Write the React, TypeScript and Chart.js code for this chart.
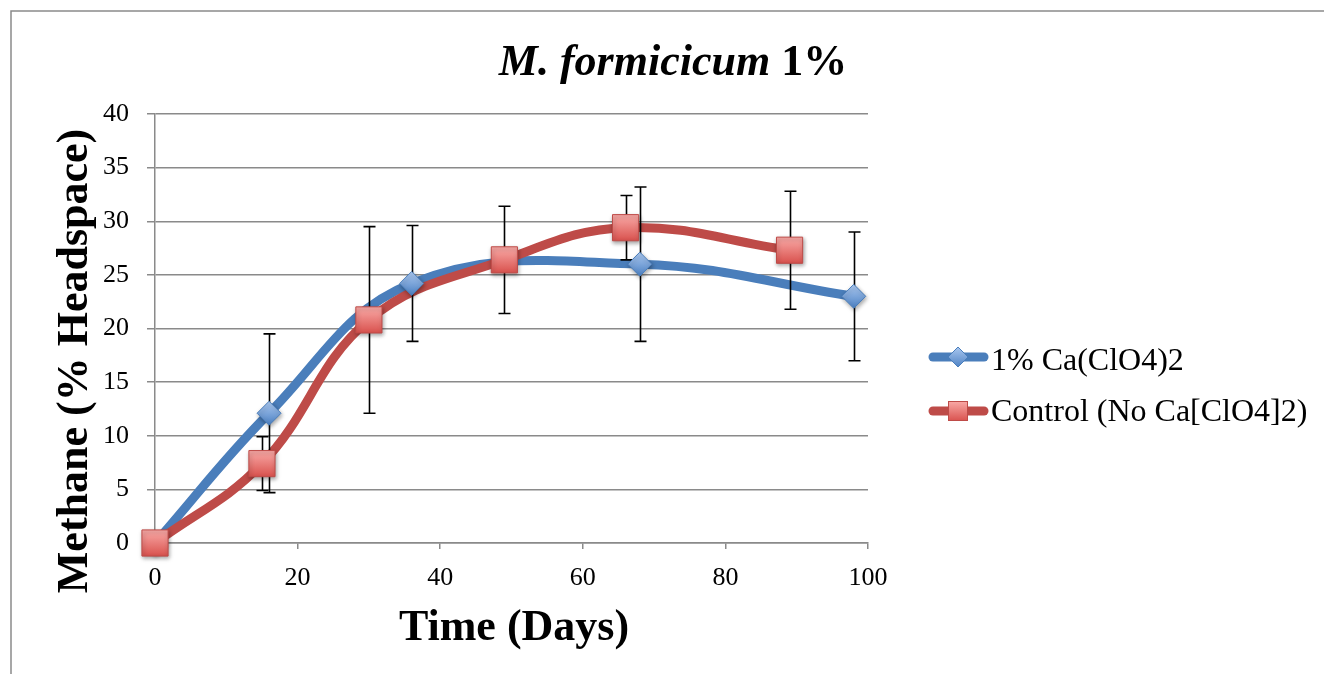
import { useEffect, useRef } from 'react';
import { Chart, registerables } from 'chart.js';

Chart.register(...registerables);

// Series: 1% calcium perchlorate
const daysPerchlorate = [0, 16, 36, 68, 98];
const methanePerchlorate = [0, 12.1, 24.2, 26.0, 23.0];
const errorPerchlorate = [0, 7.4, 5.4, 7.2, 6.0];

// Series: control without perchlorate
const daysControl = [0, 15, 30, 49, 66, 89];
const methaneControl = [0, 7.4, 20.8, 26.4, 29.4, 27.3];
const errorControl = [0, 2.5, 8.7, 5.0, 3.0, 5.5];

const seriesNames = ['1% Ca(ClO4)2', 'Control (No Ca[ClO4]2)'];
const xTickValues = [0, 20, 40, 60, 80, 100];
const yTickValues = [0, 5, 10, 15, 20, 25, 30, 35, 40];

const titleItalicPart = 'M. formicicum';
const titlePlainPart = '1%';
const xAxisTitle = 'Time (Days)';
const yAxisTitle = 'Methane (% Headspace)';

const W = 1324;
const H = 674;
const SERIF = '"Liberation Serif", "DejaVu Serif", serif';

const BLUE = '#4a7ebb';
const RED = '#be4b48';
const GRID = '#8a8a8a';
const LINE_W = 9;

function markerFill(top: string, bottom: string, half: number) {
  return (ctx: any) => {
    const chart = ctx.chart;
    const ys = chart.scales && chart.scales.y;
    if (!ys || !ctx.parsed) return bottom;
    const py = ys.getPixelForValue(ctx.parsed.y);
    if (!Number.isFinite(py)) return bottom;
    const g = chart.ctx.createLinearGradient(0, py - half, 0, py + half);
    g.addColorStop(0, top);
    g.addColorStop(1, bottom);
    return g;
  };
}

const toPoints = (xs: number[], ys: number[]) => xs.map((x, i) => ({ x, y: ys[i] }));

// Vertical error bars, drawn above both lines but below the markers
const errorBarPlugin = {
  id: 'errorBars',
  beforeDatasetDraw(chart: any, args: any) {
    if (args.index !== 2) return;
    const { ctx, scales } = chart;
    const sets = [
      { xs: daysPerchlorate, ys: methanePerchlorate, es: errorPerchlorate },
      { xs: daysControl, ys: methaneControl, es: errorControl },
    ];
    ctx.save();
    ctx.strokeStyle = '#000';
    ctx.lineWidth = 1.6;
    sets.forEach((s) => {
      s.xs.forEach((xv, i) => {
        const e = s.es[i];
        if (!e) return;
        const px = Math.round(scales.x.getPixelForValue(xv)) + 0.5;
        const top = scales.y.getPixelForValue(s.ys[i] + e);
        const bot = scales.y.getPixelForValue(s.ys[i] - e);
        ctx.beginPath();
        ctx.moveTo(px, top);
        ctx.lineTo(px, bot);
        ctx.moveTo(px - 6, top);
        ctx.lineTo(px + 6, top);
        ctx.moveTo(px - 6, bot);
        ctx.lineTo(px + 6, bot);
        ctx.stroke();
      });
    });
    ctx.restore();
  },
};

// Soft drop shadow under the markers
const markerShadowPlugin = {
  id: 'markerShadow',
  beforeDatasetDraw(chart: any, args: any) {
    if (args.index < 2) return;
    const ctx = chart.ctx;
    ctx.save();
    ctx.shadowColor = 'rgba(0,0,0,0.35)';
    ctx.shadowBlur = 4;
    ctx.shadowOffsetX = 1;
    ctx.shadowOffsetY = 2;
  },
  afterDatasetDraw(chart: any, args: any) {
    if (args.index < 2) return;
    chart.ctx.restore();
  },
};

// Outer frame, chart title, axis titles and legend
const decorPlugin = {
  id: 'decor',
  afterDraw(chart: any) {
    const ctx = chart.ctx;
    ctx.save();

    // frame
    ctx.strokeStyle = '#8a8a8a';
    ctx.lineWidth = 1.5;
    ctx.beginPath();
    ctx.moveTo(11, H);
    ctx.lineTo(11, 11);
    ctx.lineTo(W, 11);
    ctx.stroke();

    ctx.fillStyle = '#000';
    ctx.textBaseline = 'alphabetic';

    // title: italic species name followed by upright percentage
    const italicFont = `italic bold 44px ${SERIF}`;
    const boldFont = `bold 44px ${SERIF}`;
    ctx.font = italicFont;
    const w1 = ctx.measureText(titleItalicPart + ' ').width;
    ctx.font = boldFont;
    const w2 = ctx.measureText(titlePlainPart).width;
    const startX = 673 - (w1 + w2) / 2;
    ctx.textAlign = 'left';
    ctx.font = italicFont;
    ctx.fillText(titleItalicPart + ' ', startX, 75);
    ctx.font = boldFont;
    ctx.fillText(titlePlainPart, startX + w1, 75);

    // axis titles
    ctx.textAlign = 'center';
    ctx.font = boldFont;
    ctx.fillText(xAxisTitle, 514, 640);
    ctx.save();
    ctx.translate(87, 361);
    ctx.rotate(-Math.PI / 2);
    ctx.fillText(yAxisTitle, 0, 0);
    ctx.restore();

    // legend
    const rows = [
      { y: 357, color: BLUE, shape: 'diamond', base: 370 },
      { y: 411, color: RED, shape: 'square', base: 421 },
    ];
    rows.forEach((r, i) => {
      ctx.strokeStyle = r.color;
      ctx.lineWidth = LINE_W;
      ctx.lineCap = 'round';
      ctx.beginPath();
      ctx.moveTo(933, r.y);
      ctx.lineTo(984, r.y);
      ctx.stroke();
      ctx.lineCap = 'butt';
      ctx.lineWidth = 1;
      if (r.shape === 'diamond') {
        const g = ctx.createLinearGradient(0, r.y - 10, 0, r.y + 10);
        g.addColorStop(0, '#a9c7f0');
        g.addColorStop(1, '#4f83c4');
        ctx.fillStyle = g;
        ctx.beginPath();
        ctx.moveTo(958 - 10, r.y);
        ctx.lineTo(958, r.y - 10);
        ctx.lineTo(958 + 10, r.y);
        ctx.lineTo(958, r.y + 10);
        ctx.closePath();
        ctx.fill();
        ctx.strokeStyle = BLUE;
        ctx.stroke();
      } else {
        const g = ctx.createLinearGradient(0, r.y - 10, 0, r.y + 10);
        g.addColorStop(0, '#f9aaa7');
        g.addColorStop(1, '#d9524e');
        ctx.fillStyle = g;
        ctx.fillRect(948, r.y - 10, 20, 20);
        ctx.strokeStyle = RED;
        ctx.strokeRect(948.5, r.y - 9.5, 19, 19);
      }
      ctx.fillStyle = '#000';
      ctx.textAlign = 'left';
      ctx.font = `32px ${SERIF}`;
      ctx.fillText(seriesNames[i], 991, r.base);
    });

    ctx.restore();
  },
};

export default function App() {
  const canvasRef = useRef<HTMLCanvasElement | null>(null);

  useEffect(() => {
    const canvas = canvasRef.current;
    if (!canvas) return;

    const blueLine = toPoints(daysPerchlorate, methanePerchlorate);
    const redLine = toPoints(daysControl, methaneControl);

    const chart = new Chart(canvas, {
      type: 'line',
      data: {
        datasets: [
          {
            label: seriesNames[0],
            data: blueLine,
            borderColor: BLUE,
            borderWidth: LINE_W,
            tension: 0.4,
            pointRadius: 0,
            clip: false,
            order: 3,
          },
          {
            label: seriesNames[1],
            data: redLine,
            borderColor: RED,
            borderWidth: LINE_W,
            tension: 0.4,
            pointRadius: 0,
            clip: false,
            order: 2,
          },
          {
            label: seriesNames[0],
            data: blueLine,
            showLine: false,
            pointStyle: 'rectRot',
            pointRadius: 12,
            pointBorderWidth: 1,
            pointBorderColor: BLUE,
            pointBackgroundColor: markerFill('#a9c7f0', '#4f83c4', 11),
            clip: false,
            order: 1,
          },
          {
            label: seriesNames[1],
            data: redLine,
            showLine: false,
            pointStyle: 'rect',
            pointRadius: 18.5,
            pointBorderWidth: 1,
            pointBorderColor: RED,
            pointBackgroundColor: markerFill('#f9aaa7', '#d9524e', 13),
            clip: false,
            order: 0,
          },
        ],
      },
      options: {
        animation: false,
        responsive: false,
        events: [],
        layout: { padding: { left: 0, top: 114, right: W - 868, bottom: 0 } },
        plugins: {
          legend: { display: false },
          title: { display: false },
          tooltip: { enabled: false },
        },
        scales: {
          x: {
            type: 'linear',
            min: 0,
            max: 100,
            afterBuildTicks: (s: any) => {
              s.ticks = xTickValues.map((v) => ({ value: v }));
            },
            afterFit: (s: any) => {
              s.height = H - 543;
            },
            grid: {
              drawOnChartArea: false,
              drawTicks: true,
              tickLength: 6,
              color: GRID,
              lineWidth: 1.5,
            },
            border: { display: true, color: GRID, width: 1.5 },
            ticks: {
              color: '#000',
              padding: 14,
              maxRotation: 0,
              font: { family: SERIF, size: 26 },
            },
          },
          y: {
            type: 'linear',
            min: 0,
            max: 40,
            afterBuildTicks: (s: any) => {
              s.ticks = yTickValues.map((v) => ({ value: v }));
            },
            afterFit: (s: any) => {
              s.width = 155;
            },
            grid: {
              drawOnChartArea: true,
              drawTicks: true,
              tickLength: 8,
              color: GRID,
              lineWidth: 1.5,
            },
            border: { display: true, color: GRID, width: 1.5 },
            ticks: {
              color: '#000',
              padding: 18,
              font: { family: SERIF, size: 26 },
            },
          },
        },
      },
      plugins: [errorBarPlugin, markerShadowPlugin, decorPlugin],
    } as any);

    return () => chart.destroy();
  }, []);

  return (
    <div style={{ position: 'fixed', left: 0, top: 0, width: W, height: H, background: '#fff' }}>
      <canvas ref={canvasRef} width={W} height={H} style={{ display: 'block' }} />
    </div>
  );
}
